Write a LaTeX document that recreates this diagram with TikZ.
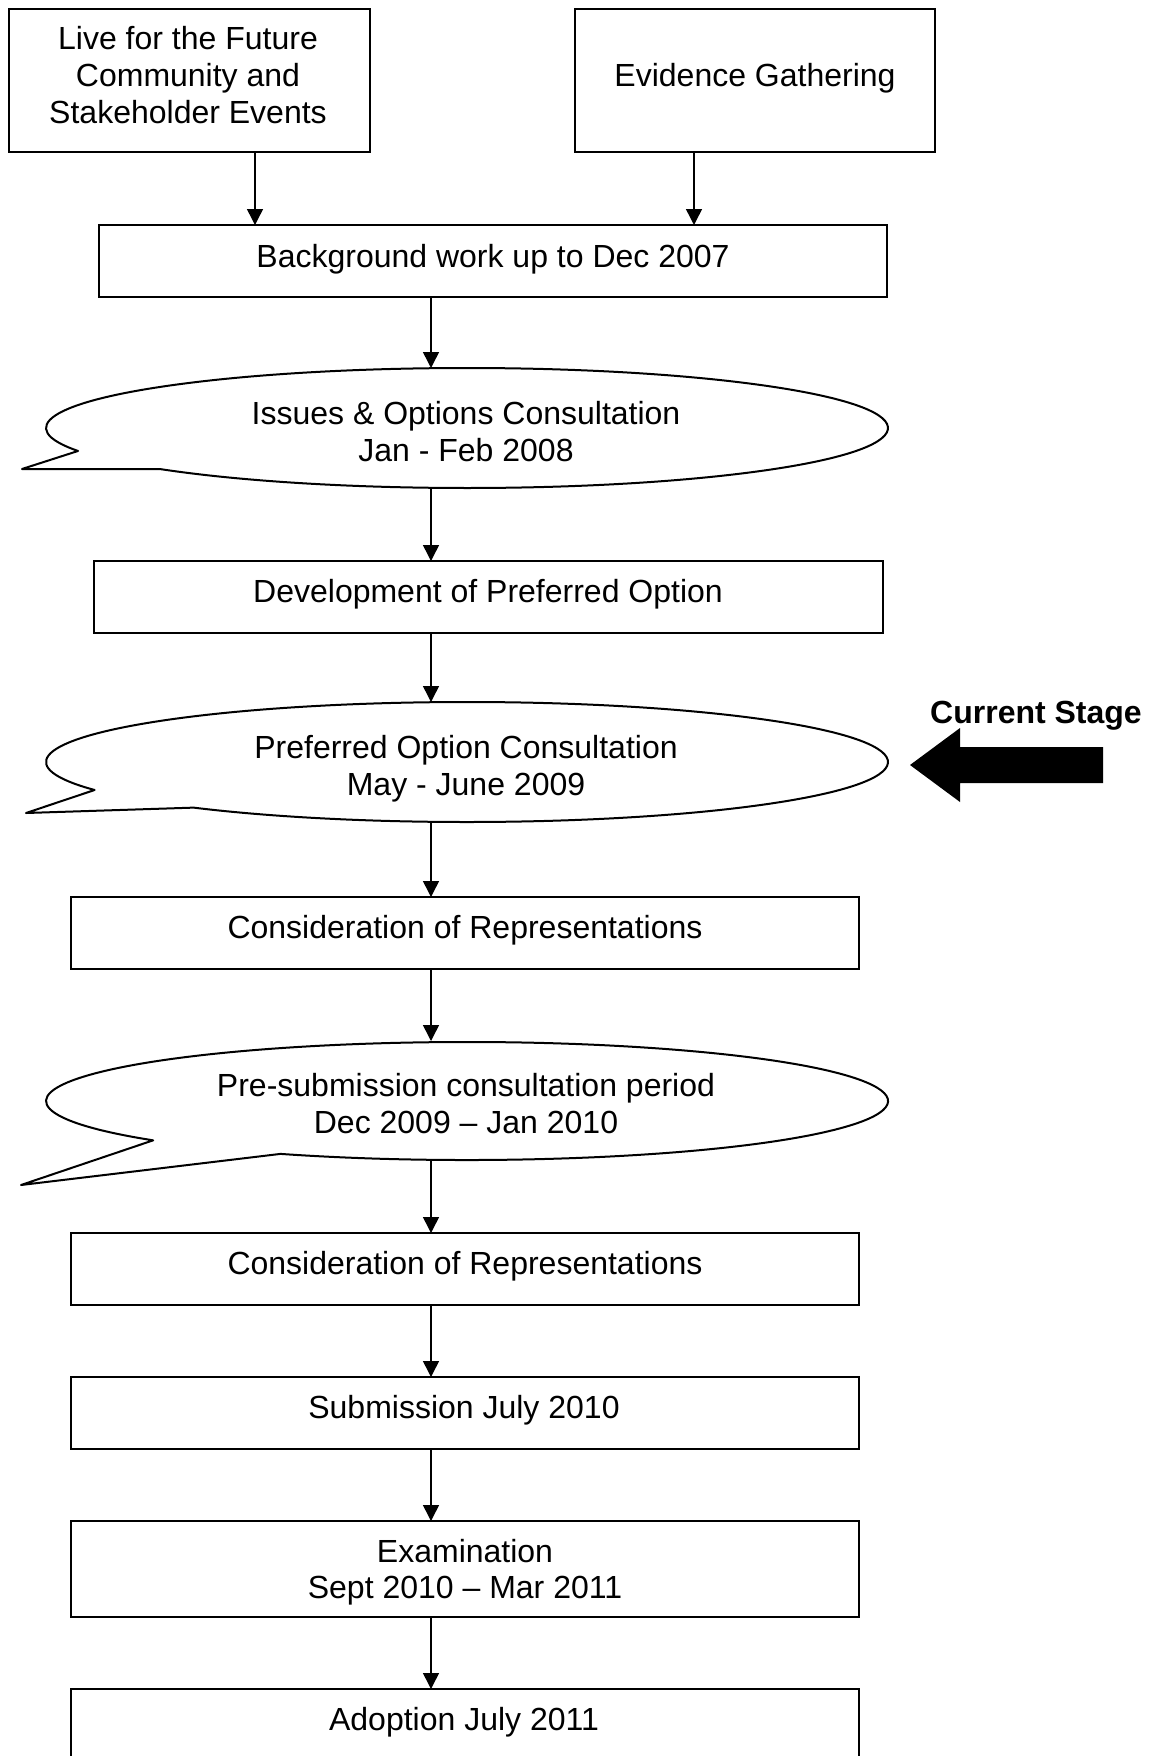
\documentclass[tikz,border=0pt]{standalone}
\usepackage{fontspec}
\setmainfont{Liberation Sans}
\usetikzlibrary{arrows.meta,shapes.geometric}
\begin{document}
\begin{tikzpicture}[x=0.5pt,y=0.5pt,
  box/.style 2 args={draw, line width=1pt, inner sep=0pt, outer sep=0pt,
    minimum width=#1*0.5pt, minimum height=#2*0.5pt},
  ebox/.style={ellipse, inner sep=0pt, outer sep=0pt,
    minimum width=842*0.5pt, minimum height=120*0.5pt},
  bubble/.style={draw, line width=1pt, line join=round},
  txt/.style={anchor=base, inner sep=0pt, font=\fontsize{16pt}{18.5pt}\selectfont},
  arr/.style={line width=0.75pt, -{Triangle[length=8pt,width=8pt]}},
  pointer/.style={fill=black},
]
\useasboundingbox (0,0) rectangle (1157,-1756);

% connector x positions
\coordinate (a1) at (255,0);
\coordinate (a2) at (694,0);
\coordinate (ax) at (431,0);

% boxes
\node[box={361}{143}] (b1) at (189.5,-80.5) {};
\node[box={360}{143}] (b2) at (755,-80.5) {};
\node[box={788}{72}] (bg) at (493,-261) {};
\node[box={789}{72}] (dev) at (488.5,-597) {};
\node[box={788}{72}] (c1) at (465,-933) {};
\node[box={788}{72}] (c2) at (465,-1269) {};
\node[box={788}{72}] (sub) at (465,-1413) {};
\node[box={788}{96}] (ex) at (465,-1569) {};
\node[box={788}{72}] (ad) at (465,-1725) {};

% speech bubbles
\node[ebox] (e1) at (467,-428) {};
\node[ebox] (e2) at (467,-762) {};
\node[ebox] (e3) at (467,-1101) {};
\coordinate (t1) at (22,-469);
\coordinate (t2) at (26,-813);
\coordinate (t3) at (21,-1185);
\draw[bubble] (e1.center) ++(223.4:210.5pt and 30pt)
  arc[start angle=223.4, end angle=562.5, x radius=210.5pt, y radius=30pt] -- (t1) -- cycle;
\draw[bubble] (e2.center) ++(229.5:210.5pt and 30pt)
  arc[start angle=229.5, end angle=567.8, x radius=210.5pt, y radius=30pt] -- (t2) -- cycle;
\draw[bubble] (e3.center) ++(243.7:210.5pt and 29.5pt)
  arc[start angle=243.7, end angle=581.8, x radius=210.5pt, y radius=29.5pt] -- (t3) -- cycle;

% texts
\node[txt] (b1l1) at (188,-49) {Live for the Future};
\node[txt] (b1l2) at (188,-86) {Community and};
\node[txt] (b1l3) at (188,-123) {Stakeholder Events};
\node[txt] (b2l1) at (755,-86) {Evidence Gathering};
\node[txt] (bgl) at (493,-267) {Background work up to Dec 2007};
\node[txt] (e1l1) at (466,-424) {Issues \& Options Consultation};
\node[txt] (e1l2) at (466,-461) {Jan - Feb 2008};
\node[txt] (devl) at (488,-602) {Development of Preferred Option};
\node[txt] (e2l1) at (466,-758) {Preferred Option Consultation};
\node[txt] (e2l2) at (466,-795) {May - June 2009};
\node[txt] (c1l) at (465,-938) {Consideration of Representations};
\node[txt] (e3l1) at (466,-1096) {Pre-submission consultation period};
\node[txt] (e3l2) at (466,-1133) {Dec 2009 – Jan 2010};
\node[txt] (c2l) at (465,-1274) {Consideration of Representations};
\node[txt] (subl) at (464,-1418) {Submission July 2010};
\node[txt] (exl1) at (465,-1562) {Examination};
\node[txt] (exl2) at (465,-1598) {Sept 2010 – Mar 2011};
\node[txt] (adl) at (464,-1730) {Adoption July 2011};
\node[txt, font=\fontsize{16pt}{18.5pt}\selectfont\bfseries] (cs) at (1036,-723) {Current Stage};

% current stage pointer
\fill[pointer] (910,-765) -- (960,-728) -- (960,-747) -- (1103,-747)
  -- (1103,-783) -- (960,-783) -- (960,-802) -- cycle;

% connectors
\draw[arr] (b1.south -| a1) -- (bg.north -| a1);
\draw[arr] (b2.south -| a2) -- (bg.north -| a2);
\draw[arr] (bg.south -| ax) -- (e1.north -| ax);
\draw[arr] (e1.south -| ax) -- (dev.north -| ax);
\draw[arr] (dev.south -| ax) -- (e2.north -| ax);
\draw[arr] (e2.south -| ax) -- (c1.north -| ax);
\draw[arr] (c1.south -| ax) -- (e3.north -| ax);
\draw[arr] (e3.south -| ax) -- (c2.north -| ax);
\draw[arr] (c2.south -| ax) -- (sub.north -| ax);
\draw[arr] (sub.south -| ax) -- (ex.north -| ax);
\draw[arr] (ex.south -| ax) -- (ad.north -| ax);
\end{tikzpicture}
\end{document}
